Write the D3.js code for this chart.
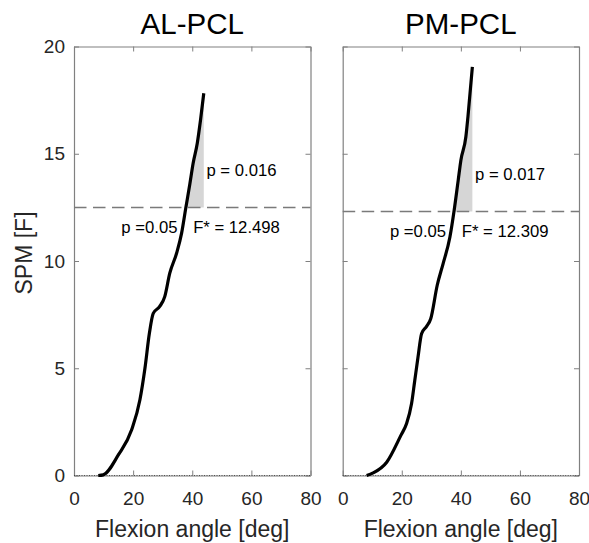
<!DOCTYPE html>
<html><head><meta charset="utf-8">
<script src="https://cdn.jsdelivr.net/npm/d3@7/dist/d3.min.js"></script>
<style>body{margin:0;background:#fff}svg{display:block}text{font-family:Arial,"Liberation Sans",sans-serif}</style>
</head><body>
<script>
// ---- data ----
const panelTitles = ["AL-PCL", "PM-PCL"];
const xTicks = [0, 20, 40, 60, 80];
const yTicks = [0, 5, 10, 15, 20];
const alAngle = [8.2, 9.9, 15.0, 19.5, 22.3, 24.0, 25.5, 26.8, 29.0, 30.7, 32.4, 34.7, 36.4, 37.8, 39.2, 40.3, 41.7, 42.8, 43.9];
const alSPM   = [0.0, 0.03, 0.96, 2.13, 3.53, 5.0, 6.63, 7.56, 7.88, 8.34, 9.43, 10.36, 11.3, 12.46, 13.6, 14.56, 15.49, 16.57, 17.82];
const pmAngle = [8.1, 10.3, 14.9, 19.7, 21.6, 23.3, 24.4, 25.5, 26.7, 28.4, 29.8, 32.0, 34.0, 36.3, 37.7, 39.1, 40.0, 41.7, 42.4, 43.9];
const pmSPM   = [0.0, 0.12, 0.62, 1.87, 2.41, 3.34, 4.43, 5.52, 6.61, 6.95, 7.31, 8.87, 9.88, 11.12, 12.33, 13.76, 14.69, 15.79, 16.72, 19.05];
const thresholds = [12.498, 12.309];
const pValues = ["p = 0.016", "p = 0.017"];
const alphaLabels = ["p =0.05", "p =0.05"];
const fStarLabels = ["F* = 12.498", "F* = 12.309"];

const W = 589, H = 543;
const svg = d3.select("body").append("svg").attr("width", W).attr("height", H);

const panels = [
  {left: 74, right: 310.5, angle: alAngle, spm: alSPM, yLabels: true},
  {left: 342.7, right: 579, angle: pmAngle, spm: pmSPM, yLabels: false}
];
const plotTop = 46.5, plotBottom = 475.5;
const axisCol = "#808080", textCol = "#262626";

panels.forEach((p, i) => {
  const x = d3.scaleLinear().domain([0, 80]).range([p.left, p.right]);
  const y = d3.scaleLinear().domain([0, 20]).range([plotBottom, plotTop]);
  const g = svg.append("g");
  const data = p.angle.map((a, k) => ({x: a, y: p.spm[k]}));
  const thr = thresholds[i];

  // shaded suprathreshold region
  const dense = [];
  for (let k = 0; k < data.length - 1; k++) {
    const a = data[k], b = data[k + 1];
    if (a.y < thr && b.y >= thr) {
      const t = (thr - a.y) / (b.y - a.y);
      dense.push({x: a.x + t * (b.x - a.x), y: thr});
    }
    if (b.y >= thr) dense.push(b);
  }
  g.append("path")
    .datum(dense)
    .attr("fill", "#d6d6d6")
    .attr("d", d3.area().x(d => x(d.x)).y0(y(thr)).y1(d => y(d.y)).curve(d3.curveMonotoneX));

  // axes (box with inward ticks)
  const ax = g.append("g").attr("transform", `translate(0,${plotBottom})`)
    .call(d3.axisBottom(x).tickValues(xTicks).tickSizeInner(-5).tickSizeOuter(0).tickPadding(16));
  const axT = g.append("g").attr("transform", `translate(0,${plotTop})`)
    .call(d3.axisTop(x).tickValues(xTicks).tickSizeInner(-5).tickSizeOuter(0).tickFormat(""));
  const ay = g.append("g").attr("transform", `translate(${p.left},0)`)
    .call(d3.axisLeft(y).tickValues(yTicks).tickSizeInner(-5).tickSizeOuter(0).tickPadding(9)
      .tickFormat(p.yLabels ? d3.format("d") : ""));
  const ayR = g.append("g").attr("transform", `translate(${p.right},0)`)
    .call(d3.axisRight(y).tickValues(yTicks).tickSizeInner(-5).tickSizeOuter(0).tickFormat(""));
  [ax, axT, ay, ayR].forEach(a => {
    a.select(".domain").attr("stroke", axisCol).attr("stroke-width", 1.2);
    a.selectAll(".tick line").attr("stroke", axisCol);
    a.selectAll(".tick text").attr("fill", textCol).style("font-size", "19px").style("font-family", "Arial, 'Liberation Sans', sans-serif");
  });

  // zero dotted line
  g.append("line").attr("x1", p.left).attr("x2", p.right).attr("y1", y(0)).attr("y2", y(0))
    .attr("stroke", "#333").attr("stroke-width", 0.8).attr("stroke-dasharray", "1,1.5");

  // threshold dashed line
  g.append("line").attr("x1", p.left).attr("x2", p.right).attr("y1", y(thr)).attr("y2", y(thr))
    .attr("stroke", "#7a7a7a").attr("stroke-width", 1.5).attr("stroke-dasharray", "12.5,6.5");

  // curve
  g.append("path").datum(data)
    .attr("fill", "none").attr("stroke", "#000").attr("stroke-width", 3.2).attr("stroke-linejoin", "round")
    .attr("d", d3.line().x(d => x(d.x)).y(d => y(d.y)).curve(d3.curveMonotoneX));

  // annotations
  g.append("text").attr("x", x(44.8)).attr("y", y(thr) - 31.5).text(pValues[i])
    .attr("fill", "#000").style("font-size", "16.7px");
  g.append("text").attr("x", x(16.0)).attr("y", y(thr) + 25.5).text(alphaLabels[i])
    .attr("fill", "#000").style("font-size", "16.7px");
  g.append("text").attr("x", x(40.3)).attr("y", y(thr) + 25.5).text(fStarLabels[i])
    .attr("fill", "#000").style("font-size", "16.7px");

  // title
  g.append("text").attr("x", (p.left + p.right) / 2).attr("y", 34.3).attr("text-anchor", "middle")
    .text(panelTitles[i]).attr("fill", "#000").style("font-size", "29.5px");

  // x label
  g.append("text").attr("x", (p.left + p.right) / 2).attr("y", 536.5).attr("text-anchor", "middle")
    .text("Flexion angle [deg]").attr("fill", textCol).style("font-size", "23px");
});

svg.append("text").attr("transform", "translate(32,253) rotate(-90)").attr("text-anchor", "middle")
  .text("SPM [F]").attr("fill", textCol).style("font-size", "23px");
</script>
</body></html>
